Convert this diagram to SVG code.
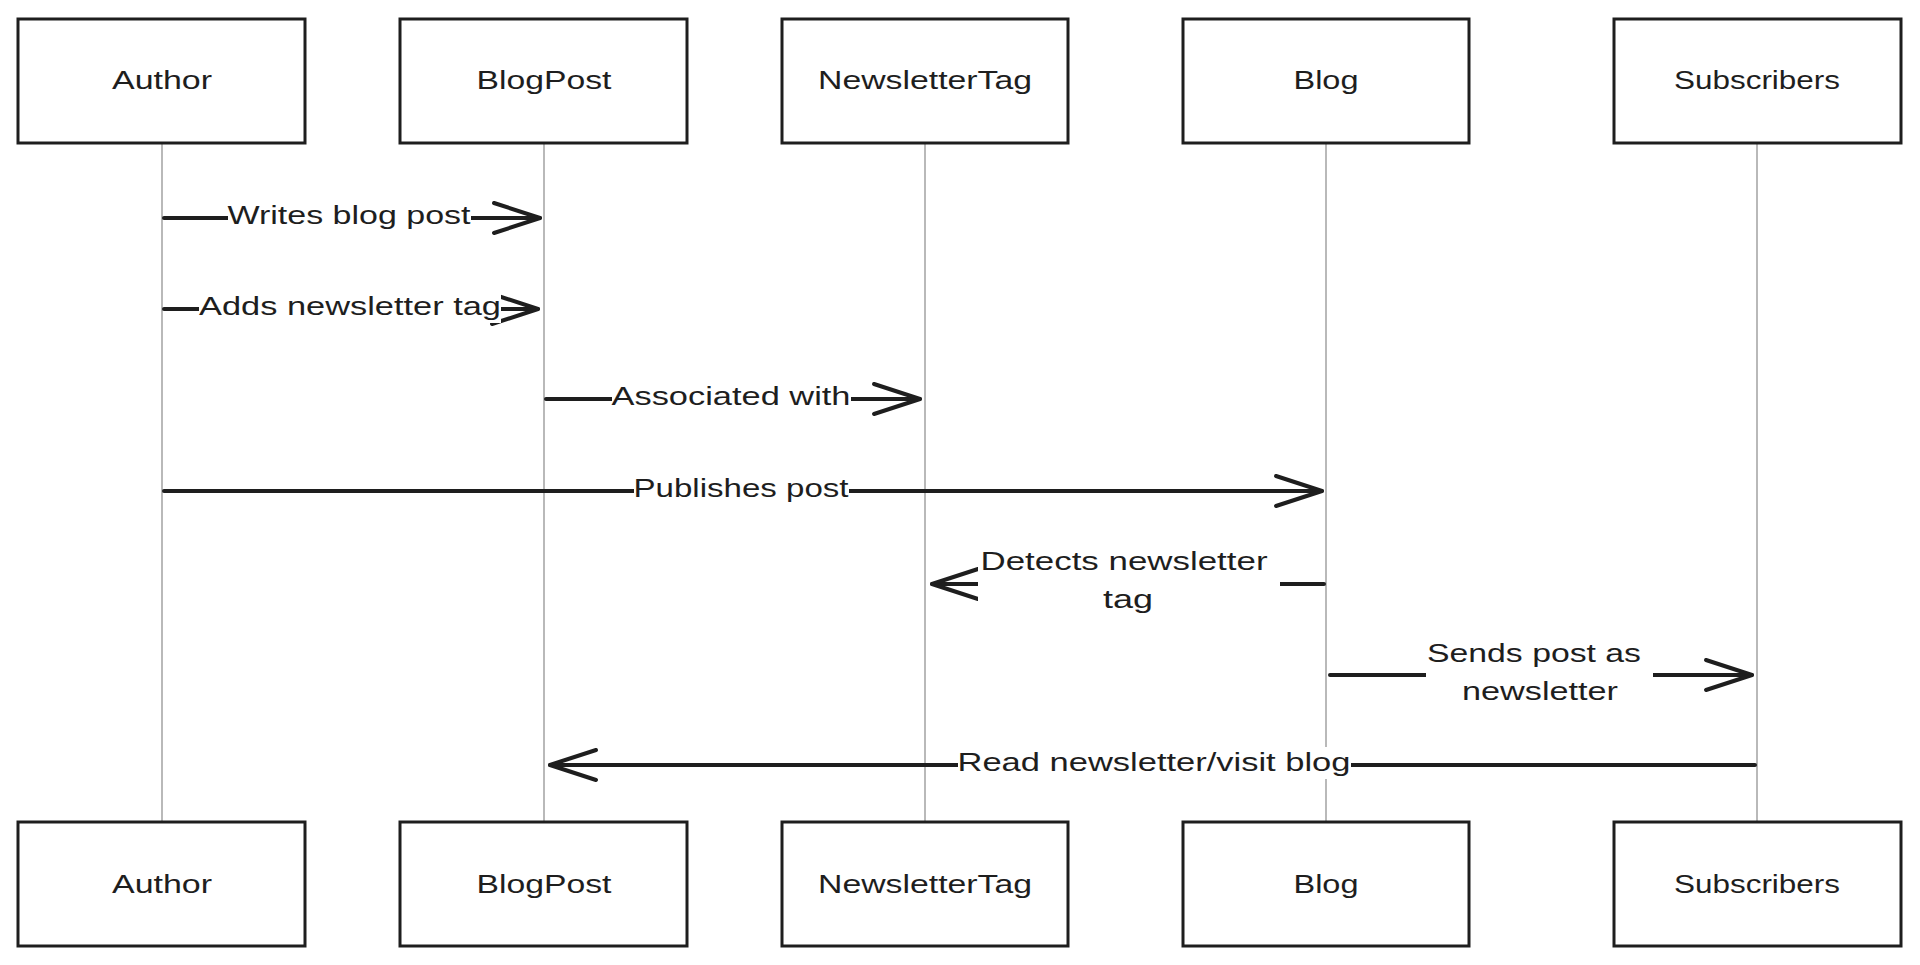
<svg xmlns="http://www.w3.org/2000/svg" width="1920" height="965" viewBox="0 0 1920 965">
<style>
.box{fill:#fff;stroke:#1e1e1e;stroke-width:3}
.lbl{font-family:"Liberation Sans",Arial,sans-serif;font-size:26px;fill:#1e1e1e;text-anchor:middle}
.msg{font-family:"Liberation Sans",Arial,sans-serif;font-size:25px;fill:#1e1e1e;text-anchor:middle}
.life{stroke:#a8a8a8;stroke-width:1.6;fill:none}
.ln{stroke:#1e1e1e;stroke-width:4;fill:none;stroke-linecap:round}
.bg{fill:#fff}
</style>
<defs>
<marker id="arr" markerWidth="52" markerHeight="40" refX="49" refY="20" orient="auto" markerUnits="userSpaceOnUse" viewBox="0 0 52 40">
<path d="M3 5 L49 20 L3 35" fill="none" stroke="#1e1e1e" stroke-width="4" stroke-linecap="round" stroke-linejoin="round"/>
</marker>
</defs>
<rect width="1920" height="965" fill="#fff"/>
<g id="lifelines">
<line class="life" x1="162" y1="143" x2="162" y2="822"/>
<line class="life" x1="544" y1="143" x2="544" y2="822"/>
<line class="life" x1="925" y1="143" x2="925" y2="822"/>
<line class="life" x1="1326" y1="143" x2="1326" y2="822"/>
<line class="life" x1="1757" y1="143" x2="1757" y2="822"/>
</g>
<g id="author-top"><rect class="box" x="18" y="19" width="287" height="124"/><text class="lbl" x="162" y="89" textLength="100" lengthAdjust="spacingAndGlyphs">Author</text></g>
<g id="blogpost-top"><rect class="box" x="400" y="19" width="287" height="124"/><text class="lbl" x="544" y="89" textLength="135" lengthAdjust="spacingAndGlyphs">BlogPost</text></g>
<g id="newslettertag-top"><rect class="box" x="782" y="19" width="286" height="124"/><text class="lbl" x="925" y="89" textLength="214" lengthAdjust="spacingAndGlyphs">NewsletterTag</text></g>
<g id="blog-top"><rect class="box" x="1183" y="19" width="286" height="124"/><text class="lbl" x="1326" y="89" textLength="65" lengthAdjust="spacingAndGlyphs">Blog</text></g>
<g id="subscribers-top"><rect class="box" x="1614" y="19" width="287" height="124"/><text class="lbl" x="1757" y="89" textLength="166" lengthAdjust="spacingAndGlyphs">Subscribers</text></g>
<g id="author-bottom"><rect class="box" x="18" y="822" width="287" height="124"/><text class="lbl" x="162" y="893" textLength="100" lengthAdjust="spacingAndGlyphs">Author</text></g>
<g id="blogpost-bottom"><rect class="box" x="400" y="822" width="287" height="124"/><text class="lbl" x="544" y="893" textLength="135" lengthAdjust="spacingAndGlyphs">BlogPost</text></g>
<g id="newslettertag-bottom"><rect class="box" x="782" y="822" width="286" height="124"/><text class="lbl" x="925" y="893" textLength="214" lengthAdjust="spacingAndGlyphs">NewsletterTag</text></g>
<g id="blog-bottom"><rect class="box" x="1183" y="822" width="286" height="124"/><text class="lbl" x="1326" y="893" textLength="65" lengthAdjust="spacingAndGlyphs">Blog</text></g>
<g id="subscribers-bottom"><rect class="box" x="1614" y="822" width="287" height="124"/><text class="lbl" x="1757" y="893" textLength="166" lengthAdjust="spacingAndGlyphs">Subscribers</text></g>
<g id="connectors">
<line class="ln" x1="164" y1="218" x2="540" y2="218" marker-end="url(#arr)"/>
<rect class="bg" x="228" y="200" width="243" height="32"/>
<text class="msg" x="349" y="224" textLength="243" lengthAdjust="spacingAndGlyphs">Writes blog post</text>

<line class="ln" x1="164" y1="309" x2="538" y2="309" marker-end="url(#arr)"/>
<rect class="bg" x="199" y="291" width="302" height="32"/>
<text class="msg" x="350" y="315" textLength="302" lengthAdjust="spacingAndGlyphs">Adds newsletter tag</text>

<line class="ln" x1="546" y1="399" x2="920" y2="399" marker-end="url(#arr)"/>
<rect class="bg" x="612" y="381" width="239" height="32"/>
<text class="msg" x="731" y="405" textLength="239" lengthAdjust="spacingAndGlyphs">Associated with</text>

<line class="ln" x1="164" y1="491" x2="1322" y2="491" marker-end="url(#arr)"/>
<rect class="bg" x="634" y="473" width="215" height="32"/>
<text class="msg" x="741" y="497" textLength="215" lengthAdjust="spacingAndGlyphs">Publishes post</text>

<line class="ln" x1="1324" y1="584" x2="932" y2="584" marker-end="url(#arr)"/>
<rect class="bg" x="978" y="544" width="302" height="72"/>
<text class="msg" x="1124" y="570" textLength="287" lengthAdjust="spacingAndGlyphs">Detects newsletter</text>
<text class="msg" x="1128" y="608" textLength="50" lengthAdjust="spacingAndGlyphs">tag</text>

<line class="ln" x1="1330" y1="675" x2="1752" y2="675" marker-end="url(#arr)"/>
<rect class="bg" x="1426" y="636" width="227" height="72"/>
<text class="msg" x="1534" y="662" textLength="214" lengthAdjust="spacingAndGlyphs">Sends post as</text>
<text class="msg" x="1540" y="700" textLength="156" lengthAdjust="spacingAndGlyphs">newsletter</text>

<line class="ln" x1="1755" y1="765" x2="550" y2="765" marker-end="url(#arr)"/>
<rect class="bg" x="958" y="747" width="393" height="32"/>
<text class="msg" x="1154" y="771" textLength="393" lengthAdjust="spacingAndGlyphs">Read newsletter/visit blog</text>
</g>
</svg>
